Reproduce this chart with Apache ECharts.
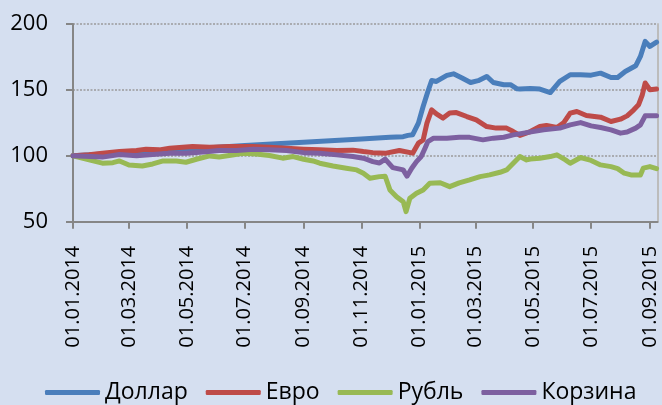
<!DOCTYPE html>
<html>
<head>
<meta charset="utf-8">
<script src="https://cdn.jsdelivr.net/npm/echarts@6/dist/echarts.min.js"></script>
<style>
html,body{margin:0;padding:0;background:#d5dff0;}
#chart{width:662px;height:405px;}
</style>
</head>
<body>
<div id="chart"></div>
<script>
// Series names (legend)
var seriesNames = ['Доллар', 'Евро', 'Рубль', 'Корзина'];
// Tick label dates (every two months)
var tickDates = ['2014-01-01','2014-03-01','2014-05-01','2014-07-01','2014-09-01','2014-11-01',
                 '2015-01-01','2015-03-01','2015-05-01','2015-07-01','2015-09-01'];
var yTicks = [50, 100, 150, 200];

// Dollar
var dollarDates = ['2014-01-01','2014-03-01','2014-05-01','2014-07-01','2014-09-01','2014-11-01','2014-12-01','2014-12-15','2014-12-20','2014-12-25',
  '2014-12-31','2015-01-05','2015-01-10','2015-01-14','2015-01-19','2015-01-24','2015-01-30','2015-02-06','2015-02-15','2015-02-24',
  '2015-03-04','2015-03-13','2015-03-20','2015-03-31','2015-04-07','2015-04-14','2015-04-17','2015-04-28','2015-05-08','2015-05-19',
  '2015-05-29','2015-06-09','2015-06-20','2015-07-01','2015-07-11','2015-07-22','2015-07-29','2015-08-06','2015-08-17','2015-08-22',
  '2015-08-27','2015-09-01','2015-09-08'];
var dollarValues = [100,102.5,105,107.8,110.3,112.8,114,114.5,115.5,116,
  124.8,137.4,148.8,157.1,156.4,158.5,161,162.2,159,155.6,
  157,160.2,155.6,153.9,154,150.8,150.6,151,150.6,148,
  156.4,161.5,161.5,161.2,162.7,159.4,159.4,164,168.3,175.4,
  186.8,183,186.3];

// Euro
var euroDates = ['2014-01-01','2014-01-18','2014-02-01','2014-02-19','2014-03-09','2014-03-19','2014-04-02','2014-04-13','2014-05-07','2014-05-25',
  '2014-06-15','2014-07-09','2014-07-27','2014-08-14','2014-09-01','2014-09-18','2014-10-06','2014-10-23','2014-11-03','2014-11-13',
  '2014-11-27','2014-12-11','2014-12-25','2014-12-31','2015-01-05','2015-01-09','2015-01-14','2015-01-19','2015-01-26','2015-02-02',
  '2015-02-09','2015-02-20','2015-03-02','2015-03-13','2015-03-23','2015-04-03','2015-04-10','2015-04-17','2015-04-28','2015-05-08',
  '2015-05-15','2015-05-26','2015-06-02','2015-06-09','2015-06-16','2015-06-26','2015-07-11','2015-07-22','2015-08-01','2015-08-08',
  '2015-08-15','2015-08-20','2015-08-24','2015-08-27','2015-09-01','2015-09-08'];
var euroValues = [100,100.8,102,103.2,104,105,104.5,105.8,107,106.5,
  107,107,106.5,105.8,105,104.5,104,104.3,103.2,102.4,
  102,104,102,109.6,112,124.8,134.9,131.8,128.6,132.4,
  132.8,129.8,127.3,122.2,121,121,118.4,115.5,118.4,122.2,
  123,121.5,125,132.4,133.6,130.6,129.3,126,127.8,130.3,
  134.9,138.7,146.3,155.2,150.1,150.6];

// Ruble
var rubleDates = ['2014-01-01','2014-01-18','2014-02-01','2014-02-12','2014-02-19','2014-03-01','2014-03-15','2014-03-26','2014-04-06','2014-04-20',
  '2014-04-30','2014-05-11','2014-05-25','2014-06-04','2014-06-18','2014-06-29','2014-07-13','2014-07-27','2014-08-10','2014-08-21',
  '2014-09-01','2014-09-11','2014-09-18','2014-10-02','2014-10-16','2014-10-27','2014-11-03','2014-11-10','2014-11-20','2014-11-26',
  '2014-12-01','2014-12-08','2014-12-15','2014-12-18','2014-12-22','2014-12-29','2015-01-05','2015-01-12','2015-01-23','2015-02-02',
  '2015-02-12','2015-02-23','2015-03-06','2015-03-16','2015-03-27','2015-04-03','2015-04-10','2015-04-17','2015-04-24','2015-04-28',
  '2015-05-08','2015-05-19','2015-05-26','2015-06-04','2015-06-09','2015-06-20','2015-07-01','2015-07-11','2015-07-22','2015-07-29',
  '2015-08-05','2015-08-12','2015-08-22','2015-08-25','2015-09-01','2015-09-08'];
var rubleValues = [100,96.9,94.4,94.8,96.1,93,92.3,93.8,96.1,96,
  95.1,97.4,99.9,99.1,100.6,102,101.4,100.2,98.2,99.4,
  97.4,96.1,94.4,92.3,90.6,89.3,86.8,83,84.2,84.5,
  74.1,69,65.2,57.6,67.8,71.6,74.1,79.2,79.6,76.6,
  79.5,81.7,84.2,85.5,87.5,89.3,94.4,99.4,96.9,97.6,
  98.2,99.4,100.7,96.9,94.4,98.7,96.5,93.1,91.8,90.3,
  86.8,85.5,85.5,90.6,91.8,90.3];

// Basket
var basketDates = ['2014-01-01','2014-02-01','2014-02-19','2014-03-09','2014-03-26','2014-04-13','2014-04-30','2014-05-18','2014-06-04','2014-06-22',
  '2014-07-10','2014-07-27','2014-08-14','2014-09-01','2014-09-18','2014-10-06','2014-10-23','2014-11-03','2014-11-13','2014-11-20',
  '2014-11-26','2014-12-04','2014-12-15','2014-12-19','2014-12-24','2014-12-29','2015-01-03','2015-01-07','2015-01-10','2015-01-16',
  '2015-01-30','2015-02-12','2015-02-23','2015-03-09','2015-03-20','2015-03-31','2015-04-10','2015-04-24','2015-05-12','2015-05-29',
  '2015-06-09','2015-06-20','2015-07-01','2015-07-11','2015-07-22','2015-08-01','2015-08-08','2015-08-17','2015-08-22','2015-08-27',
  '2015-09-08'];
var basketValues = [100,99,101,100,101,102,102,102.8,104,104,
  105,104.5,104,102.4,101.9,100.7,99.4,98.2,95.6,94.5,
  97.5,91,89.3,84.5,90.6,95.6,99.4,105.8,110.8,113.4,
  113.4,114.1,114,112.1,113.4,114.1,115.9,117.6,119.7,121,
  123.5,125.2,122.7,121.5,119.7,117.2,118,121,123.5,130.3,
  130.3];

var colors = ['#4a7ebb', '#be4b48', '#98b954', '#7d60a0'];

function toTs(s) { var p = s.split('-'); return Date.UTC(+p[0], +p[1] - 1, +p[2]); }
function pairs(d, v) { return d.map(function (s, i) { return [toTs(s), v[i]]; }); }
function pad(n) { return (n < 10 ? '0' : '') + n; }

var tickTs = tickDates.map(toTs);
var font = '"Open Sans", "Liberation Sans", sans-serif';

var chart = echarts.init(document.getElementById('chart'), null, {renderer: 'canvas'});
chart.setOption({
  backgroundColor: '#d5dff0',
  animation: false,
  color: colors,
  grid: {left: 73, right: 4.5, top: 24, bottom: 183.3, outerBoundsMode: 'none', containLabel: false},
  legend: {
    data: seriesNames,
    left: 45, top: 381, padding: 0,
    icon: 'roundRect', itemWidth: 55, itemHeight: 5, itemGap: 18,
    textStyle: {fontFamily: font, fontSize: 23, color: '#000'}
  },
  xAxis: {
    type: 'value',
    min: toTs('2014-01-01'),
    max: toTs('2015-09-09'),
    axisLine: {show: true, lineStyle: {color: '#868686', width: 2}},
    axisTick: {show: true, length: 7, customValues: tickTs, lineStyle: {color: '#868686', width: 2}},
    splitLine: {show: false},
    axisLabel: {
      customValues: tickTs,
      rotate: 90, margin: 24, color: '#000', fontFamily: font, fontSize: 20,
      hideOverlap: false,
      formatter: function (v) { var d = new Date(v); return pad(d.getUTCDate()) + '.' + pad(d.getUTCMonth() + 1) + '.' + d.getUTCFullYear(); }
    }
  },
  yAxis: [{
    type: 'value', min: yTicks[0], max: yTicks[yTicks.length - 1], interval: 50,
    axisLine: {show: true, lineStyle: {color: '#868686', width: 2}},
    axisTick: {show: true, length: 7, lineStyle: {color: '#868686', width: 2}},
    splitLine: {show: true, lineStyle: {color: '#9a9a9a', width: 1.5, type: [2, 1.5]}},
    axisLabel: {margin: 25, color: '#000', fontFamily: font, fontSize: 22}
  }, {
    type: 'value', position: 'right', min: 50, max: 200, interval: 50,
    axisLine: {show: true, lineStyle: {color: '#bcbcbc', width: 2}},
    axisTick: {show: false}, axisLabel: {show: false}, splitLine: {show: false}
  }],
  series: [
    {name: seriesNames[0], type: 'line', data: pairs(dollarDates, dollarValues)},
    {name: seriesNames[1], type: 'line', data: pairs(euroDates, euroValues)},
    {name: seriesNames[2], type: 'line', data: pairs(rubleDates, rubleValues)},
    {name: seriesNames[3], type: 'line', data: pairs(basketDates, basketValues)}
  ].map(function (s) {
    s.showSymbol = false; s.symbol = 'none';
    s.lineStyle = {width: 5, cap: 'round', join: 'round'};
    return s;
  })
});
</script>
</body>
</html>
